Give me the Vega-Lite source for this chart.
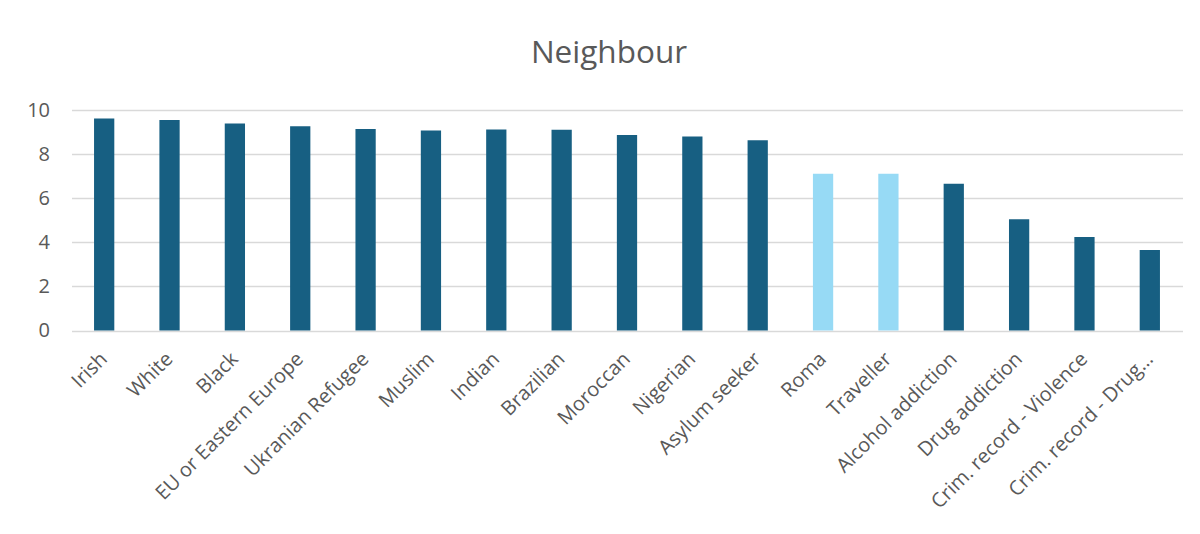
{
  "$schema": "https://vega.github.io/schema/vega-lite/v6.json",
  "width": 1111,
  "height": 220.5,
  "autosize": {"type": "none"},
  "padding": {"left": 71.5, "top": 110, "right": 17.5, "bottom": 203.5},
  "background": "white",
  "title": {
    "text": "Neighbour",
    "font": "Open Sans",
    "fontSize": 31.5,
    "fontWeight": "normal",
    "color": "#595959",
    "offset": 31,
    "dx": -18
  },
  "data": {
    "values": [
      {"group": "Irish", "score": 9.61, "highlight": "no"},
      {"group": "White", "score": 9.55, "highlight": "no"},
      {"group": "Black", "score": 9.39, "highlight": "no"},
      {"group": "EU or Eastern Europe", "score": 9.26, "highlight": "no"},
      {"group": "Ukranian Refugee", "score": 9.14, "highlight": "no"},
      {"group": "Muslim", "score": 9.07, "highlight": "no"},
      {"group": "Indian", "score": 9.11, "highlight": "no"},
      {"group": "Brazilian", "score": 9.1, "highlight": "no"},
      {"group": "Moroccan", "score": 8.87, "highlight": "no"},
      {"group": "Nigerian", "score": 8.8, "highlight": "no"},
      {"group": "Asylum seeker", "score": 8.63, "highlight": "no"},
      {"group": "Roma", "score": 7.11, "highlight": "yes"},
      {"group": "Traveller", "score": 7.11, "highlight": "yes"},
      {"group": "Alcohol addiction", "score": 6.65, "highlight": "no"},
      {"group": "Drug addiction", "score": 5.05, "highlight": "no"},
      {"group": "Crim. record - Violence", "score": 4.24, "highlight": "no"},
      {"group": "Crim. record - Drug…", "score": 3.65, "highlight": "no"}
    ]
  },
  "mark": {"type": "bar"},
  "encoding": {
    "x": {
      "field": "group",
      "type": "nominal",
      "sort": null,
      "title": null,
      "scale": {"paddingInner": 0.69, "paddingOuter": 0.345},
      "axis": {
        "labelAngle": -45,
        "labelFont": "Open Sans",
        "labelFontSize": 20,
        "labelColor": "#595959",
        "labelPadding": 18,
        "labelOffset": -7,
        "ticks": false,
        "domain": false,
        "grid": false,
        "labelLimit": 300
      }
    },
    "y": {
      "field": "score",
      "type": "quantitative",
      "title": null,
      "scale": {"domain": [0, 10]},
      "axis": {
        "values": [0, 2, 4, 6, 8, 10],
        "labelFont": "Open Sans",
        "labelFontSize": 20,
        "labelColor": "#595959",
        "labelPadding": 22,
        "ticks": false,
        "domain": false,
        "gridColor": "#d9d9d9",
        "gridWidth": 1.5
      }
    },
    "color": {
      "field": "highlight",
      "type": "nominal",
      "scale": {"domain": ["no", "yes"], "range": ["#175f82", "#97daf5"]},
      "legend": null
    }
  },
  "config": {"view": {"stroke": null}}
}
